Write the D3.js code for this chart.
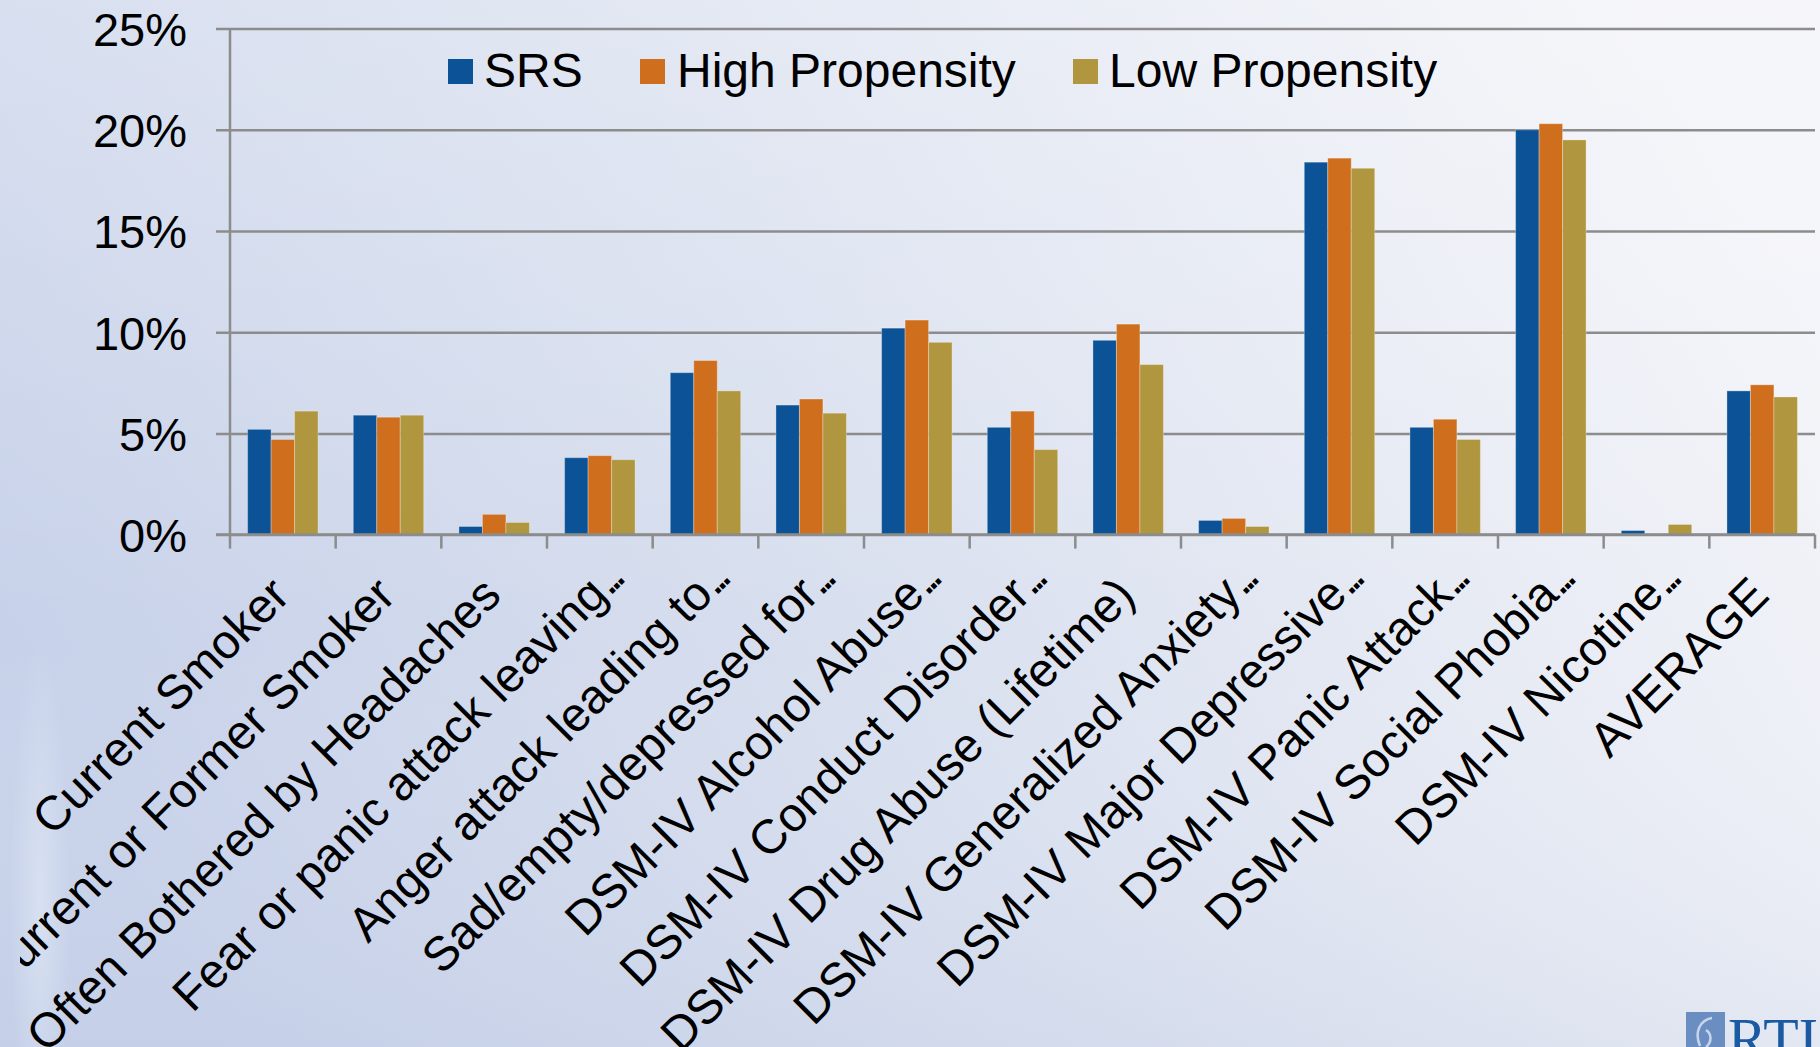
<!DOCTYPE html>
<html>
<head>
<meta charset="utf-8">
<script src="https://cdn.jsdelivr.net/npm/d3@7"></script>
<style>
  html, body { margin: 0; padding: 0; }
  body { width: 1820px; height: 1047px; overflow: hidden; }
  svg { display: block; font-family: "Liberation Sans", Arial, sans-serif; }
</style>
</head>
<body>
<svg id="chart" width="1820" height="1047"></svg>
<script>
// Survey outcomes compared across three sampling designs (percent)
const categories = [
  "Current Smoker",
  "Current or Former Smoker",
  "Often Bothered by Headaches",
  "Fear or panic attack leaving\u2026",
  "Anger attack leading to\u2026",
  "Sad/empty/depressed for\u2026",
  "DSM-IV Alcohol Abuse\u2026",
  "DSM-IV Conduct Disorder\u2026",
  "DSM-IV Drug Abuse (Lifetime)",
  "DSM-IV Generalized Anxiety\u2026",
  "DSM-IV Major Depressive\u2026",
  "DSM-IV Panic Attack\u2026",
  "DSM-IV Social Phobia\u2026",
  "DSM-IV Nicotine\u2026",
  "AVERAGE"
];
const seriesNames = ["SRS", "High Propensity", "Low Propensity"];
const srs  = [5.2, 5.9, 0.4, 3.8, 8.0, 6.4, 10.2, 5.3, 9.6, 0.7, 18.4, 5.3, 20.0, 0.2, 7.1];
const high = [4.7, 5.8, 1.0, 3.9, 8.6, 6.7, 10.6, 6.1, 10.4, 0.8, 18.6, 5.7, 20.3, 0.0, 7.4];
const low  = [6.1, 5.9, 0.6, 3.7, 7.1, 6.0, 9.5, 4.2, 8.4, 0.4, 18.1, 4.7, 19.5, 0.5, 6.8];
const yTicks = [0, 5, 10, 15, 20, 25];
const colors = ["#0b5396", "#cf6e1d", "#b0963e"];

const svg = d3.select("#chart");
const W = 1820, H = 1047;

// Background wash
const defs = svg.append("defs");
const bg = defs.append("linearGradient").attr("id", "bg")
  .attr("x1", "0").attr("y1", "0.6").attr("x2", "1").attr("y2", "0.3");
bg.append("stop").attr("offset", "0").attr("stop-color", "#c7d1e9");
bg.append("stop").attr("offset", "0.45").attr("stop-color", "#d9e0ef");
bg.append("stop").attr("offset", "0.8").attr("stop-color", "#eaedf5");
bg.append("stop").attr("offset", "1").attr("stop-color", "#f3f4f9");
const shade = defs.append("linearGradient").attr("id", "shade")
  .attr("x1", "0").attr("y1", "0").attr("x2", "0").attr("y2", "1");
shade.append("stop").attr("offset", "0").attr("stop-color", "#ffffff").attr("stop-opacity", 0.22);
shade.append("stop").attr("offset", "0.6").attr("stop-color", "#ffffff").attr("stop-opacity", 0);
shade.append("stop").attr("offset", "1").attr("stop-color", "#b9c4de").attr("stop-opacity", 0.15);
const glow = defs.append("radialGradient").attr("id", "glow")
  .attr("cx", "0.5").attr("cy", "0.5").attr("r", "0.5");
glow.append("stop").attr("offset", "0").attr("stop-color", "#e2ebf7").attr("stop-opacity", 0.6);
glow.append("stop").attr("offset", "1").attr("stop-color", "#e2ebf7").attr("stop-opacity", 0);
defs.append("clipPath").attr("id", "labelClip")
  .append("rect").attr("x", 20).attr("y", 0).attr("width", W - 20).attr("height", H);

svg.append("rect").attr("width", W).attr("height", H).attr("fill", "url(#bg)");
svg.append("rect").attr("width", W).attr("height", H).attr("fill", "url(#shade)");
svg.append("ellipse").attr("cx", 40).attr("cy", 900).attr("rx", 30).attr("ry", 260)
  .attr("fill", "url(#glow)");

// Plot frame
const plotLeft = 230, plotRight = 1815, plotTop = 28.6, plotBottom = 534.6;

const x0 = d3.scaleBand().domain(categories).range([plotLeft, plotRight]).paddingInner(0).paddingOuter(0);
const x1 = d3.scaleBand().domain(seriesNames)
  .range([0, x0.bandwidth()]).paddingOuter(0.75).paddingInner(0);
const y = d3.scaleLinear().domain([0, 25]).range([plotBottom, plotTop]);

const gridColor = "#8c8c8c";

// Horizontal gridlines with tick labels
const yAxis = svg.append("g").attr("transform", `translate(${plotLeft},0)`)
  .call(d3.axisLeft(y).tickValues(yTicks).tickFormat(d => d + "%")
    .tickSize(-(plotRight - plotLeft)).tickPadding(0));
yAxis.select(".domain").remove();
yAxis.selectAll(".tick line").attr("stroke", gridColor).attr("stroke-width", 2.5)
  .attr("x1", -14).attr("x2", plotRight - plotLeft);
yAxis.selectAll(".tick text")
  .attr("x", -43).attr("dy", "0.36em")
  .attr("fill", "#000").attr("font-size", 47)
  .attr("font-family", "'Liberation Sans', Arial, sans-serif");

// Vertical axis line
svg.append("line").attr("x1", plotLeft).attr("x2", plotLeft).attr("y1", plotTop).attr("y2", plotBottom)
  .attr("stroke", gridColor).attr("stroke-width", 2.5);

// Bars
const rows = categories.map((c, i) => ({ cat: c, vals: [srs[i], high[i], low[i]] }));
const groups = svg.append("g").selectAll("g").data(rows).join("g")
  .attr("transform", d => `translate(${x0(d.cat)},0)`);
groups.selectAll("rect")
  .data(d => d.vals.map((v, k) => ({ key: seriesNames[k], v, k })).filter(d => d.v > 0))
  .join("rect")
  .attr("x", d => x1(d.key))
  .attr("width", x1.bandwidth())
  .attr("y", d => y(d.v))
  .attr("height", d => y(0) - y(d.v))
  .attr("fill", d => colors[d.k])
  .attr("stroke", "rgba(255,255,255,0.3)")
  .attr("stroke-width", 1);

// Category axis with rotated labels
const xAxis = svg.append("g").attr("transform", `translate(0,${plotBottom})`)
  .call(d3.axisBottom(x0).tickSize(0).tickFormat(""));
xAxis.select(".domain").attr("stroke", gridColor).attr("stroke-width", 2.5)
  .attr("d", `M${plotLeft - 14},0H${plotRight}`);
xAxis.selectAll(".tick").remove();

const bounds = x0.domain().map(c => x0(c)).concat([plotRight]);
svg.append("g").selectAll("line").data(bounds).join("line")
  .attr("x1", d => d).attr("x2", d => d)
  .attr("y1", plotBottom).attr("y2", plotBottom + 14)
  .attr("stroke", gridColor).attr("stroke-width", 2.5);

// Truncated labels end in a tight run of dots that spills past the anchor
const labels = svg.append("g").attr("clip-path", "url(#labelClip)")
  .selectAll("text").data(categories).join("text")
  .attr("transform", d => `translate(${x0(d) + x0.bandwidth() / 2 + 9},${plotBottom + 63}) rotate(-45)`)
  .attr("text-anchor", "end")
  .attr("font-size", 48)
  .attr("fill", "#000");
labels.each(function(d) {
  const t = d3.select(this);
  if (d.endsWith("\u2026")) {
    t.attr("x", 20);
    t.append("tspan").text(d.slice(0, -1));
    t.append("tspan").attr("letter-spacing", -7).text("...");
  } else {
    t.text(d);
  }
});

// Legend
const legendItems = [
  { name: "SRS", sx: 448, tx: 484 },
  { name: "High Propensity", sx: 640, tx: 677 },
  { name: "Low Propensity", sx: 1073, tx: 1109 }
];
const legend = svg.append("g");
legend.selectAll("rect").data(legendItems).join("rect")
  .attr("x", d => d.sx).attr("y", 59).attr("width", 25).attr("height", 25)
  .attr("fill", (d, i) => colors[i]);
legend.selectAll("text").data(legendItems).join("text")
  .attr("x", d => d.tx).attr("y", 87)
  .attr("font-size", 48).attr("fill", "#000")
  .text(d => d.name);

// Corner logo
const logo = svg.append("g");
logo.append("rect").attr("x", 1686).attr("y", 1012).attr("width", 39).attr("height", 40)
  .attr("fill", "#6a8dc2");
logo.append("path")
  .attr("d", "M1712,1018 C1700,1020 1694,1032 1700,1046 M1706,1030 C1712,1034 1712,1042 1706,1047")
  .attr("fill", "none").attr("stroke", "#c9d6ea").attr("stroke-width", 2.5);
logo.append("text").attr("x", 1728).attr("y", 1060)
  .attr("font-family", "'Liberation Serif', 'Times New Roman', serif")
  .attr("font-size", 62).attr("fill", "#1a5aa2")
  .attr("textLength", 90).attr("lengthAdjust", "spacingAndGlyphs")
  .text("RTI");
</script>
</body>
</html>
